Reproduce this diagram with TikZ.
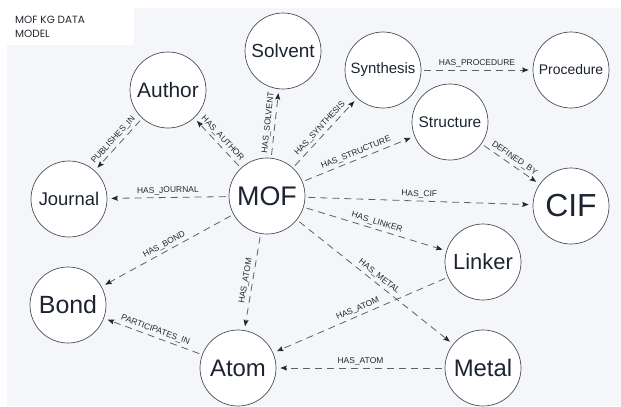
\documentclass[tikz,border=0pt]{standalone}
\usepackage{fontspec}
\setmainfont{Liberation Sans}
\newfontfamily\titlefont{Poppins}
\usetikzlibrary{arrows.meta}
\definecolor{bgcol}{HTML}{F4F6FA}
\definecolor{ringcol}{HTML}{4A4F57}
\definecolor{inkcol}{HTML}{1C2431}
\definecolor{edgecol}{HTML}{5C6068}
\definecolor{tipcol}{HTML}{25282E}

\begin{document}
\begin{tikzpicture}
	[
		x=1bp,
		y=-1bp,
		entity/.style={circle,draw=ringcol,line width=0.7bp,fill=white,minimum size=76bp,inner sep=0pt,text=inkcol},
		rel/.style={draw=edgecol,line width=0.8bp,dash pattern=on 7bp off 5bp,-{Stealth[length=6.5bp,width=5bp,inset=1bp,color=tipcol]},shorten <=3bp,shorten >=4bp},
		reltext/.style={sloped,above,inner sep=2.5bp,font=\fontsize{8.5}{9}\selectfont,text=tipcol},
		fs/.style={font=\fontsize{#1}{#1}\selectfont}
	]
		\useasboundingbox (0,0) rectangle (621,406);
		\fill[white] (0,0) rectangle (621,406);
		\fill[bgcol] (7,8) rectangle (621,406);
		\fill[white] (7,8) rectangle (134,45);
		\node[anchor=north west,inner sep=0pt,align=left,text=tipcol,font=\titlefont\fontsize{10.5}{14}\selectfont] (title) at (15,16) {MOF KG DATA\\MODEL};

		\node[entity,fs=21] (author) at (168,90) {Author};
		\node[entity,fs=19] (solvent) at (283,51) {Solvent};
		\node[entity,fs=15] (synthesis) at (383,70) {Synthesis};
		\node[entity,fs=14] (procedure) at (571,70) {Procedure};
		\node[entity,fs=15.5] (structure) at (450,122) {Structure};
		\node[entity,fs=18.5] (journal) at (69,199) {Journal};
		\node[entity,fs=27] (mof) at (267,196) {MOF};
		\node[entity,fs=32] (cif) at (571,206) {CIF};
		\node[entity,fs=25] (bond) at (68,305) {Bond};
		\node[entity,fs=22] (linker) at (483,262) {Linker};
		\node[entity,fs=24] (atom) at (238,368) {Atom};
		\node[entity,fs=24] (metal) at (483,368) {Metal};

		\draw[rel] (mof) -- node[reltext] {HAS\_AUTHOR} (author);
		\draw[rel] (mof) -- node[reltext] {HAS\_SOLVENT} (solvent);
		\draw[rel] (mof) -- node[reltext] {HAS\_SYNTHESIS} (synthesis);
		\draw[rel] (mof) -- node[reltext] {HAS\_STRUCTURE} (structure);
		\draw[rel] (mof) -- node[reltext] {HAS\_CIF} (cif);
		\draw[rel] (mof) -- node[reltext] {HAS\_LINKER} (linker);
		\draw[rel] (mof) -- node[reltext] {HAS\_METAL} (metal);
		\draw[rel] (mof) -- node[reltext] {HAS\_ATOM} (atom);
		\draw[rel] (mof) -- node[reltext] {HAS\_BOND} (bond);
		\draw[rel] (mof) -- node[reltext] {HAS\_JOURNAL} (journal);
		\draw[rel] (author) -- node[reltext] {PUBLISHES\_IN} (journal);
		\draw[rel] (synthesis) -- node[reltext] {HAS\_PROCEDURE} (procedure);
		\draw[rel] (structure) -- node[reltext] {DEFINED\_BY} (cif);
		\draw[rel] (linker) -- node[reltext] {HAS\_ATOM} (atom);
		\draw[rel] (metal) -- node[reltext] {HAS\_ATOM} (atom);
		\draw[rel] (atom) -- node[reltext] {PARTICIPATES\_IN} (bond);
\end{tikzpicture}
\end{document}
